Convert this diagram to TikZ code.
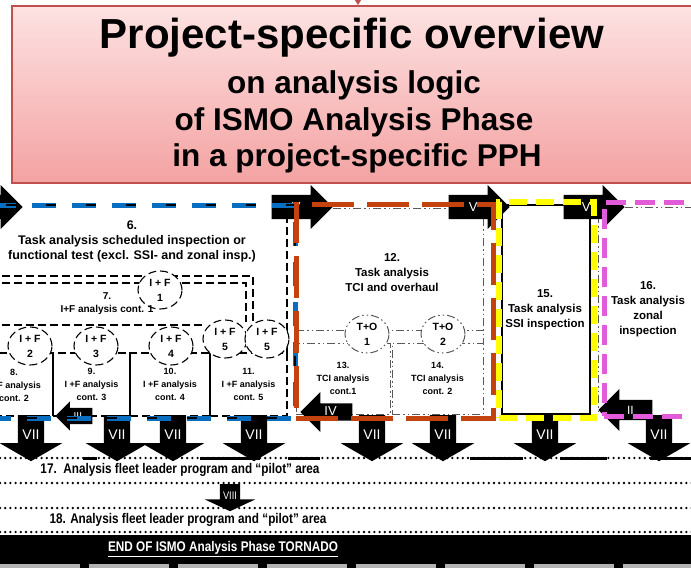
\documentclass[tikz,border=0pt]{standalone}
\usepackage{fontspec}
\setmainfont{Liberation Sans}
\newfontfamily\narrowsans{Liberation Sans}[FakeStretch=0.84]
\usepackage{tikz}
\usetikzlibrary{arrows.meta, positioning, shapes.geometric, shapes.arrows}

\definecolor{ismoblue}{HTML}{0A6EC0}
\definecolor{ismoorange}{HTML}{C4420D}
\definecolor{ismoyellow}{HTML}{FFFF00}
\definecolor{ismopink}{HTML}{E25BD8}
\definecolor{ismored}{HTML}{C0504D}
\definecolor{titletop}{HTML}{FDE2E2}
\definecolor{titlebot}{HTML}{F4A2A2}

\begin{document}
\begin{tikzpicture}[x=1pt, y=-1pt,
    titlebox/.style={draw=ismored, line width=1.8pt, top color=titletop, bottom color=titlebot},
    titletext/.style={font=\bfseries\fontsize{#1}{#1}\selectfont, inner sep=0pt},
    thindash/.style={draw=black, line width=1.1pt, dash pattern=on 8pt off 4pt},
    dashdotline/.style={draw=black!65, line width=1pt, dash pattern=on 8pt off 3pt on 1.5pt off 3pt on 1.5pt off 3pt},
    subbox/.style={thindash, minimum height=63pt, font=\bfseries\fontsize{9}{13}\selectfont, align=center},
    subdot/.style={dashdotline, minimum height=71pt, font=\bfseries\fontsize{9}{13}\selectfont, align=center},
    ifcircle/.style={ellipse, thindash, fill=white, minimum width=44pt, minimum height=38pt,
                     inner sep=0pt, font=\bfseries\fontsize{10.5}{15}\selectfont, align=center},
    tocircle/.style={ifcircle, dashdotline},
    boxtext/.style={font=\bfseries\fontsize{#1}{15}\selectfont, align=center, inner sep=0pt},
    blockarrow/.style={single arrow, fill=black, text=white, inner xsep=2pt, single arrow head indent=0pt},
    toparrow/.style={blockarrow, font=\fontsize{13}{13}\selectfont, text height=8pt, text depth=0pt,
                     inner ysep=8pt, single arrow head extend=10pt, minimum height=61pt, anchor=tip},
    downarrow/.style={blockarrow, shape border rotate=270, font=\fontsize{14}{14}\selectfont,
                      text width=20pt, align=center, inner sep=3pt, single arrow head extend=18pt,
                      single arrow tip angle=120, minimum height=46pt, anchor=tail},
    leftarrow/.style={blockarrow, shape border rotate=180, anchor=tip},
    bluebox/.style={draw=black, line width=1.6pt, dash pattern=on 10pt off 30pt, dash phase=13pt,
                    preaction={draw=ismoblue, line width=5pt, dash pattern=on 24pt off 16pt}},
    orangebox/.style={draw=ismoorange, line width=5pt, dash pattern=on 42pt off 13pt},
    yellowbox/.style={draw=ismoyellow, line width=6pt, dash pattern=on 18pt off 9pt},
    pinkbox/.style={draw=ismopink, line width=5pt, dash pattern=on 20pt off 9pt},
    dotrow/.style={draw=black, line width=2.6pt, dash pattern=on 0pt off 5.2pt, line cap=round},
    rowtext/.style={font=\narrowsans\bfseries\fontsize{14}{14}\selectfont, inner sep=0pt},
]
\useasboundingbox (0,0) rectangle (691,568);
\clip (0,0) rectangle (691,568);

% title
\node[titlebox, minimum width=690pt, minimum height=177pt] (title) at (357,94.5) {};
\coordinate (feed) at (358,-20);
\draw[ismored, line width=1.5pt, -{Triangle[length=6pt, width=7pt]}] (feed) -- (title.north -| feed);
\node[titletext=42] (t1) at (352,38) {Project-specific overview};
\node[titletext=31.5] (t2) at (354,85) {on analysis logic};
\node[titletext=31.5] (t3) at (354,122) {of ISMO Analysis Phase};
\node[titletext=31.5] (t4) at (357,158) {in a project-specific PPH};

% task 6 with I+F branches
\draw[thindash] (-10,276) -- (253,276) -- (253,322);
\draw[thindash] (-10,283) -- (246,283) -- (246,322);
\draw[thindash] (-10,325) -- (205,325);
\draw[thindash] (287,215) -- (287,353);
\node[subbox, minimum width=83pt] (box8) at (11.5,384.5) {};
\node[font=\bfseries\fontsize{9}{13}\selectfont, align=center, inner sep=0pt] (lab8) at (14,385) {8.\\I +F analysis\\cont. 2};
\node[subbox, minimum width=77pt] (box9) at (91.5,384.5) {9.\\I +F analysis\\cont. 3};
\node[subbox, minimum width=80pt] (box10) at (170,384.5) {10.\\I +F analysis\\cont. 4};
\node[subbox, minimum width=77pt] (box11) at (248.5,384.5) {11.\\I +F analysis\\cont. 5};
\node[ifcircle] (if1) at (160,290) {I + F\\1};
\node[ifcircle] (if2) at (30,346) {I + F\\2};
\node[ifcircle] (if3) at (96,346) {I + F\\3};
\node[ifcircle] (if4) at (171,346) {I + F\\4};
\node[ifcircle] (if5a) at (225,339) {I + F\\5};
\node[ifcircle] (if5b) at (267,339) {I + F\\5};
\node[boxtext=12.5] (lab6) at (132,241) {6.\\Task analysis scheduled inspection or\\functional test (excl. SSI- and zonal insp.)};
\node[boxtext=10, font=\bfseries\fontsize{10}{13}\selectfont] (lab7) at (107,304) {7.\\I+F analysis cont. 1};

% task 12 with T+O branches
\draw[dashdotline] (333,208) -- (483,208) -- (483,343);
\draw[dashdotline] (296,330) -- (485,330);
\node[subdot, minimum width=94pt] (box13) at (343,378.5) {13.\\TCI analysis\\cont.1};
\node[subdot, minimum width=91pt] (box14) at (437.5,378.5) {14.\\TCI analysis\\cont. 2};
\node[tocircle] (to1) at (367,334) {T+O\\1};
\node[tocircle] (to2) at (443,334) {T+O\\2};
\node[boxtext=11.5] (lab12) at (392,273) {12.\\Task analysis\\TCI and overhaul};

% tasks 15 and 16
\node[draw, line width=1.2pt, minimum width=88pt, minimum height=209pt] (box15in) at (546,309.5) {};
\node[boxtext=11.5] (lab15) at (545,310) {15.\\Task analysis\\SSI inspection};
\draw[dashdotline] (625,207) -- (700,207);
\draw[dashdotline] (598,215) -- (598,415);
\node[boxtext=11.5] (lab16) at (648,309) {16.\\Task analysis\\zonal\\inspection};

% bottom rows
\foreach \y in {458,483,508,532}
  \draw[dotrow] (0,\y) -- (700,\y);
\foreach \a/\b in {83/97, 200/260, 288/320, 470/523, 560/607, 650/700}
  \draw[line width=3pt] (\a,458) -- (\b,458);
\node[rowtext] (row17) at (180,470) {17.\ \ Analysis fleet leader program and “pilot” area};
\node[rowtext] (row18) at (188,520) {18. Analysis fleet leader program and “pilot” area};
\node[fill=black, minimum width=700pt, minimum height=33pt, inner sep=0pt, anchor=north west] (endbar) at (0,535) {};
\draw[gray!60, line width=4pt, dash pattern=on 80pt off 9pt] (0,566) -- (700,566);
\node[text=white, font=\narrowsans\bfseries\fontsize{14}{14}\selectfont, inner sep=0pt] (endtext) at (223,549)
  {\underline{END OF ISMO Analysis Phase TORNADO}};

% block arrows
\node[toparrow, minimum height=90pt] (arrL) at (23,207) {};
\node[toparrow] (arrV1) at (333,207) {V};
\node[toparrow] (arrV2) at (510,207) {V};
\node[toparrow] (arrVI) at (625,207) {VI};
\foreach \x [count=\i] in {31,117,173,254,372,443,545,659}
  \node[downarrow] (arrVII\i) at (\x,415) {VII};
\node[blockarrow, shape border rotate=270, font=\narrowsans\fontsize{11}{11}\selectfont, text width=14pt,
      align=center, inner sep=3pt, single arrow head extend=15pt, single arrow tip angle=130,
      minimum height=27pt, anchor=tail] (arrVIII) at (230,484) {VIII};
\node[leftarrow, font=\fontsize{10}{10}\selectfont, text height=6pt, text depth=0pt, inner ysep=5pt,
      single arrow head extend=6.5pt, minimum height=37pt] (arrIII) at (55,416) {III};
\node[leftarrow, font=\fontsize{13}{13}\selectfont, text height=7pt, text depth=0pt, inner ysep=5pt,
      single arrow head extend=11.5pt, minimum height=52pt] (arrIV) at (300,412) {IV};
\node[leftarrow, font=\fontsize{12}{12}\selectfont, text height=8pt, text depth=0pt, inner ysep=6pt,
      single arrow head extend=11pt, minimum height=54pt] (arrII) at (598,410) {II};

% coloured task frames
\node[bluebox, minimum width=335pt, minimum height=213pt] (box6) at (127.5,311.5) {};
\node[orangebox, minimum width=197pt, minimum height=214pt] (box12) at (394.5,311) {};
\node[yellowbox, minimum width=95pt, minimum height=216pt] (box15) at (546.5,310) {};
\node[pinkbox, minimum width=136pt, minimum height=214pt] (box16) at (672,309) {};
\end{tikzpicture}
\end{document}
